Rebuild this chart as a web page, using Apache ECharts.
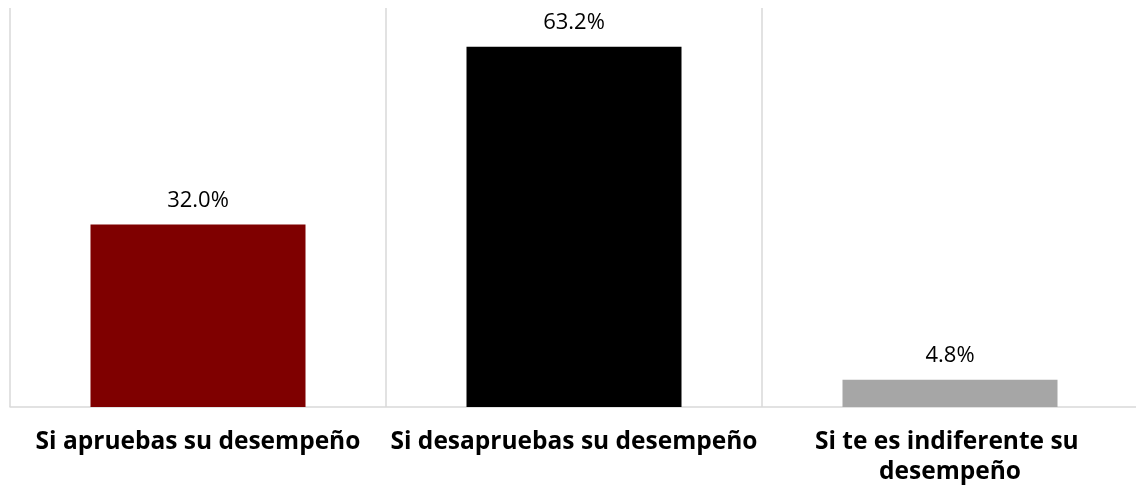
<!DOCTYPE html>
<html>
<head>
<meta charset="utf-8">
<script src="https://cdn.jsdelivr.net/npm/echarts@6/dist/echarts.min.js"></script>
<style>html,body{margin:0;padding:0;background:#fff;}#c{width:1136px;height:488px;}</style>
</head>
<body>
<div id="c"></div>
<script>
const categories = ["Si apruebas su desempeño", "Si desapruebas su desempeño", "Si te es indiferente su desempeño"];
const values = [32.0, 63.2, 4.8];
const colors = ["#7f0000", "#000000", "#a6a6a6"];

const chart = echarts.init(document.getElementById('c'));
chart.setOption({
  animation: false,
  grid: { left: 10, right: -2, top: 8, bottom: 81, containLabel: false, outerBoundsMode: 'none' },
  xAxis: {
    type: 'category',
    data: categories,
    axisLine: { show: true, lineStyle: { color: '#d9d9d9', width: 1.5 } },
    axisTick: { show: false },
    splitLine: { show: true, lineStyle: { color: '#d9d9d9', width: 1.5 } },
    axisLabel: {
      interval: 0, margin: 20, width: 392, overflow: 'break',
      fontFamily: 'Open Sans', fontWeight: 'bold', fontSize: 24.5, color: '#000', lineHeight: 30
    }
  },
  yAxis: { type: 'value', min: 0, max: 70, show: false, splitLine: { show: false } },
  series: [{
    type: 'bar',
    barWidth: 215,
    data: values.map((v, i) => ({ value: v, itemStyle: { color: colors[i] } })),
    label: {
      show: true, position: 'top', distance: 13,
      fontFamily: 'Open Sans', fontSize: 22, color: '#000',
      formatter: p => p.value.toFixed(1) + '%'
    }
  }]
});
</script>
</body>
</html>
